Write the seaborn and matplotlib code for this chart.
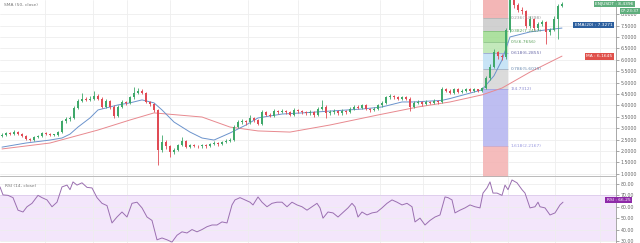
import matplotlib
matplotlib.use("Agg")
import matplotlib.pyplot as plt
import matplotlib.transforms as mtransforms
import numpy as np
import pandas as pd
import seaborn as sns

# ---------------- data ----------------
closes = [2.70, 2.79, 2.75, 2.83, 2.75, 2.66, 2.52, 2.48, 2.61, 2.66,
          2.79, 2.75, 2.70, 2.70, 2.83, 3.30, 3.40, 3.45, 3.90, 4.20,
          4.30, 4.25, 4.30, 4.40, 4.30, 3.95, 4.20, 3.95, 3.55, 3.95,
          4.15, 4.10, 4.35, 4.55, 4.65, 4.55, 4.15, 4.05, 3.80, 2.05,
          2.40, 2.20, 1.95, 2.04, 2.26, 2.45, 2.18, 2.26, 2.22, 2.20,
          2.25, 2.20, 2.30, 2.35, 2.30, 2.40, 2.45, 2.50, 3.05, 3.25,
          3.30, 3.25, 3.45, 3.35, 3.20, 3.70, 3.60, 3.55, 3.75, 3.70,
          3.75, 3.70, 3.60, 3.80, 3.75, 3.70, 3.65, 3.70, 3.60, 3.85,
          3.95, 3.65, 3.70, 3.75, 3.65, 3.75, 3.70, 3.85, 3.95, 3.90,
          4.00, 3.85, 3.80, 3.85, 4.00, 4.10, 4.35, 4.40, 4.35, 4.30,
          4.35, 4.30, 3.95, 4.10, 4.15, 4.05, 4.15, 4.10, 4.20, 4.15,
          4.70, 4.65, 4.55, 4.70, 4.60, 4.65, 4.70, 4.65, 4.70, 4.65,
          4.75, 5.20, 5.70, 6.35, 6.15, 6.10, 7.30, 8.60, 8.40, 8.20,
          8.15, 7.50, 7.80, 7.40, 7.55, 7.65, 7.20, 7.30, 7.80, 8.35,
          8.44]
first_open = 2.65
highs = [2.78, 2.85, 2.84, 2.90, 2.86, 2.78, 2.70, 2.56, 2.66, 2.72,
         2.84, 2.83, 2.78, 2.76, 2.88, 3.36, 3.50, 3.55, 3.98, 4.30,
         4.55, 4.38, 4.40, 4.65, 4.48, 4.35, 4.28, 4.25, 4.00, 4.02,
         4.22, 4.20, 4.42, 4.80, 4.75, 4.70, 4.60, 4.20, 4.10, 3.85,
         2.70, 2.48, 2.25, 2.12, 2.32, 2.60, 2.50, 2.32, 2.30, 2.28,
         2.32, 2.30, 2.36, 2.42, 2.40, 2.46, 2.52, 2.58, 3.12, 3.35,
         3.40, 3.38, 3.60, 3.50, 3.40, 3.78, 3.75, 3.66, 3.82, 3.80,
         3.84, 3.80, 3.74, 3.88, 3.86, 3.80, 3.74, 3.78, 3.74, 3.92,
         4.25, 4.00, 3.78, 3.82, 3.80, 3.82, 3.80, 3.92, 4.02, 4.00,
         4.08, 4.05, 3.90, 3.92, 4.06, 4.18, 4.42, 4.50, 4.45, 4.40,
         4.42, 4.40, 4.35, 4.18, 4.22, 4.20, 4.22, 4.20, 4.26, 4.24,
         4.80, 4.76, 4.70, 4.78, 4.75, 4.72, 4.78, 4.75, 4.76, 4.74,
         4.82, 5.30, 5.80, 6.45, 6.40, 6.25, 7.40, 8.80, 8.70, 8.48,
         8.30, 8.20, 7.90, 7.85, 7.65, 7.75, 7.70, 7.40, 7.90, 8.45,
         8.55]
lows = [2.60, 2.66, 2.70, 2.72, 2.70, 2.62, 2.47, 2.42, 2.45, 2.57,
        2.63, 2.70, 2.66, 2.64, 2.66, 2.80, 3.24, 3.33, 3.42, 3.85,
        4.15, 4.18, 4.20, 4.25, 4.22, 3.90, 3.90, 3.85, 3.45, 3.50,
        3.90, 4.02, 4.05, 4.30, 4.50, 4.48, 4.10, 3.98, 3.72, 1.40,
        1.95, 2.10, 1.75, 1.85, 2.00, 2.20, 2.12, 2.12, 2.16, 2.14,
        2.15, 2.14, 2.16, 2.25, 2.24, 2.26, 2.35, 2.40, 2.46, 3.00,
        3.18, 3.15, 3.20, 3.28, 3.12, 3.15, 3.52, 3.48, 3.50, 3.62,
        3.65, 3.62, 3.52, 3.55, 3.68, 3.62, 3.58, 3.60, 3.50, 3.55,
        3.80, 3.45, 3.58, 3.64, 3.58, 3.60, 3.62, 3.66, 3.80, 3.82,
        3.85, 3.78, 3.72, 3.75, 3.80, 3.95, 4.05, 4.30, 4.28, 4.24,
        4.25, 4.24, 3.75, 3.90, 4.05, 3.98, 4.00, 4.04, 4.06, 4.08,
        4.10, 4.58, 4.48, 4.50, 4.54, 4.55, 4.60, 4.58, 4.60, 4.58,
        4.60, 4.70, 5.12, 5.65, 6.05, 6.00, 6.05, 7.20, 8.25, 8.10,
        8.00, 7.40, 7.40, 7.30, 7.30, 7.50, 6.70, 7.10, 7.25, 6.90,
        8.30]

ema_pos = [0, 6, 12, 15, 17, 19, 22, 24, 27, 29, 32, 35, 38, 40, 43, 47, 50,
           53, 57, 61, 64, 70, 75, 82, 90, 95, 100, 103, 110, 112, 120, 123,
           125, 127, 132, 136, 140]
ema_vals = [2.17, 2.35, 2.48, 2.57, 2.74, 3.05, 3.45, 3.80, 3.93, 4.02, 4.11,
            4.24, 4.11, 3.80, 3.27, 2.83, 2.57, 2.48, 2.79, 3.14, 3.45, 3.62,
            3.67, 3.75, 3.84, 3.93, 4.15, 4.15, 4.22, 4.30, 4.68, 5.30,
            5.99, 7.00, 7.22, 7.31, 7.39]
sma_pos = [0, 12, 24, 32, 38, 44, 50, 57, 64, 72, 82, 94, 104, 112, 120, 125,
           132, 140]
sma_vals = [2.09, 2.35, 2.92, 3.36, 3.67, 3.58, 3.49, 3.05, 2.88, 2.83, 3.14,
            3.58, 3.93, 4.15, 4.46, 4.76, 5.46, 6.16]

rsi_pos = [-0.5, 0.25, 1.5, 2.75, 4, 5.25, 6.25, 7.5, 9, 10, 11.25, 12.5,
           13.75, 15, 16.25, 17, 17.75, 18.75, 20, 21.25, 22.5, 23.75, 25,
           26.25, 27.5, 28.75, 30, 31.25, 32.5, 33.75, 35, 36.25, 37.5, 38.75,
           40, 41.25, 42.5, 43.75, 45, 46.25, 47.5, 48.75, 50, 51.25, 52.5,
           53.75, 55, 56.25, 57.5, 58.25, 59.5, 60.75, 62, 62.75, 64, 65,
           66.25, 67.5, 68.75, 70, 71.25, 72.5, 73.75, 75, 76.25, 77.5, 78.75,
           79.5, 80.25, 81.5, 82.75, 84, 85.25, 86.5, 87.5, 88.25, 89, 90,
           91.25, 92.5, 93.75, 95, 96.25, 97.5, 98.75, 100, 101.25, 102.5,
           103.25, 104.5, 105.75, 107, 108.25, 109.5, 110.75, 111.5, 112.5,
           113.25, 114.5, 115.75, 117, 118.25, 119.5, 120.25, 121.25, 122,
           122.75, 123.75, 125, 125.75, 126.5, 127.5, 128.75, 130, 130.75,
           132, 133.25, 134, 134.5, 135.75, 137, 138.25, 139.5, 140.25]
rsi_vals = [77.4, 70.4, 70.0, 68.0, 57.0, 55.4, 60.0, 63.0, 70.0, 68.0, 66.0,
            60.0, 64.0, 77.4, 79.0, 75.0, 81.8, 79.0, 81.0, 77.0, 76.5, 68.0,
            63.0, 61.0, 45.8, 51.0, 55.4, 51.0, 63.0, 64.0, 59.0, 51.0, 48.0,
            31.0, 32.6, 31.0, 29.0, 35.0, 38.0, 37.0, 40.0, 38.0, 40.0, 42.5,
            44.0, 44.0, 46.7, 45.8, 61.6, 66.0, 68.0, 66.0, 64.0, 61.6, 68.6,
            64.0, 60.0, 63.0, 64.0, 64.0, 60.0, 64.0, 61.6, 60.0, 57.0, 60.0,
            63.0, 59.0, 50.0, 55.4, 54.6, 51.0, 55.0, 59.0, 63.0, 60.0, 51.0,
            55.4, 52.8, 54.6, 55.4, 59.0, 63.0, 66.0, 64.0, 61.6, 63.0, 60.0,
            46.7, 50.0, 44.0, 48.0, 51.0, 52.8, 68.6, 68.0, 66.0, 54.6, 57.0,
            59.0, 61.6, 60.0, 59.0, 72.0, 76.5, 81.8, 72.0, 72.0, 70.0, 79.0,
            75.0, 83.5, 81.0, 75.0, 72.0, 59.0, 60.0, 64.0, 60.0, 59.0, 52.8,
            54.6, 61.6, 64.0]

fib_ratios = [0, 0.236, 0.382, 0.5, 0.618, 0.786, 1, 1.618]
fib_price_0 = 8.80
fib_price_1 = 4.7312
fib_start, fib_end = 120.25, 126.5
fib_colors = ["#f2a9a9", "#c9c9c9", "#9fdc8f", "#b9e6b0", "#bfe0f5",
              "#d5d5d5", "#b3b3ef", "#f4b1b1"]
fib_text_colors = ["#888888", "#999999", "#5aa05a", "#5aa05a", "#6a6aa8",
                   "#6a8ab0", "#8a8ad0", "#9a9ae0"]

price_ticks = [1.0, 1.5, 2.0, 2.5, 3.0, 3.5, 4.0, 4.5, 5.0, 5.5, 6.0, 6.5,
               7.0, 7.5, 8.0]
rsi_ticks = [30, 40, 50, 60, 70, 80]
date_grid = [10.75, 22.75, 31.25, 42, 61.5, 74, 94.5, 105.25, 117, 126.5,
             138.25, 149.5]

up_color = "#3fa86a"
down_color = "#e04b55"

# ---------------- figure ----------------
sns.set_theme(style="white")
plt.rcParams["font.family"] = ["DejaVu Sans"]

fig = plt.figure(figsize=(6.4, 2.43), dpi=100)
W, H = 640.0, 243.0
ax = fig.add_axes([0, 67 / H, 616 / W, 176 / H])
axr = fig.add_axes([0, 0, 616 / W, 66 / H], sharex=ax)

n = len(closes)
opens = [first_open] + closes[:-1]
df = pd.DataFrame({"i": np.arange(n), "open": opens, "close": closes,
                   "high": highs, "low": lows})
df["up"] = df["close"] >= df["open"]

# fib zones
for k in range(len(fib_ratios)):
    lvl_hi = fib_price_0 - fib_ratios[k] * (fib_price_0 - fib_price_1)
    if k + 1 < len(fib_ratios):
        lvl_lo = fib_price_0 - fib_ratios[k + 1] * (fib_price_0 - fib_price_1)
    else:
        lvl_lo = 0.0
    ax.fill_between([fib_start, fib_end], lvl_lo, lvl_hi,
                    color=fib_colors[k], alpha=0.85, lw=0, zorder=1)
    ax.hlines(lvl_hi, fib_start, fib_end, color=fib_text_colors[k],
              lw=0.5, alpha=0.6, zorder=1)
    if k > 0:
        ax.text(fib_end + 0.6, lvl_hi,
                f"{fib_ratios[k]:g}({lvl_hi:.4f})",
                fontsize=3.2, color=fib_text_colors[k], va="center",
                ha="left", zorder=5)

# moving averages
sns.lineplot(x=sma_pos, y=sma_vals, ax=ax, color="#e8898f", lw=0.7,
             zorder=3)
sns.lineplot(x=ema_pos, y=ema_vals, ax=ax, color="#6b93cc", lw=0.7,
             zorder=3)

# candles
colors = np.where(df["up"], up_color, down_color)
ax.vlines(df["i"], df["low"], df["high"], colors=colors, lw=0.6, zorder=4)
body = (df["close"] - df["open"]).abs().clip(lower=0.03)
bottom = df[["open", "close"]].min(axis=1)
ax.bar(df["i"], body, bottom=bottom, width=0.68, color=colors, lw=0,
       zorder=4)

ax.set_xlim(-0.5, 153.5)
ax.set_ylim(0.904, 8.62)
ax.set_yticks(price_ticks)
ax.set_yticklabels([f"{t:.4f}" for t in price_ticks])
ax.set_xticks(date_grid)
ax.tick_params(axis="x", length=0, labelbottom=False)
ax.yaxis.tick_right()
ax.tick_params(axis="y", labelsize=3.4, colors="#666666", length=2,
               width=0.4, pad=1.5)
ax.grid(True, color="#eeeeee", lw=0.6)
for s in ["top", "left"]:
    ax.spines[s].set_visible(False)
ax.spines["right"].set_color("#9a9a9a")
ax.spines["right"].set_linewidth(0.6)
ax.spines["bottom"].set_color("#b0b0b0")
ax.spines["bottom"].set_linewidth(0.6)
ax.set_xlabel("")
ax.set_ylabel("")
ax.text(0.006, 0.985, "SMA (50, close)", transform=ax.transAxes,
        fontsize=3.2, color="#777777", va="top", ha="left")

# right-side value tags
tr = mtransforms.blended_transform_factory(ax.transAxes, ax.transData)
ax.text(0.966, 8.45, "ENJUSDT : 8.4396", transform=tr, fontsize=3.2,
        color="white", ha="left", va="center", clip_on=False, zorder=10,
        bbox=dict(boxstyle="square,pad=0.3", fc="#5fae7d", ec="none"))
ax.text(1.008, 8.15, "07:23:37", transform=tr, fontsize=3.0,
        color="white", ha="left", va="center", clip_on=False, zorder=10,
        bbox=dict(boxstyle="square,pad=0.25", fc="#5fae7d", ec="none"))
ax.text(0.994, 7.53, "EMA(20) : 7.3271", transform=tr, fontsize=3.2,
        color="white", ha="right", va="center", clip_on=False, zorder=10,
        bbox=dict(boxstyle="square,pad=0.3", fc="#2c5f9e", ec="none"))
ax.text(0.994, 6.15, "MA : 6.1645", transform=tr, fontsize=3.2,
        color="white", ha="right", va="center", clip_on=False, zorder=10,
        bbox=dict(boxstyle="square,pad=0.3", fc="#e0504a", ec="none"))

# ---------------- RSI panel ----------------
axr.axhspan(30, 70, color="#f3e6fb", lw=0, zorder=0)
axr.axhline(70, color="#d9c2ec", lw=0.5, zorder=1)
sns.lineplot(x=rsi_pos, y=rsi_vals, ax=axr, color="#9a6fb0", lw=0.7,
             zorder=3)
axr.set_ylim(28.2, 86.1)
axr.set_yticks(rsi_ticks)
axr.set_yticklabels([f"{t:.2f}" for t in rsi_ticks])
axr.yaxis.tick_right()
axr.tick_params(axis="y", labelsize=3.4, colors="#666666", length=2,
                width=0.4, pad=1.5)
axr.tick_params(axis="x", length=0, labelbottom=False)
axr.grid(True, color="#eeeeee", lw=0.6)
for s in ["top", "left", "bottom"]:
    axr.spines[s].set_visible(False)
axr.spines["right"].set_color("#9a9a9a")
axr.spines["right"].set_linewidth(0.6)
axr.set_xlabel("")
axr.set_ylabel("")
axr.text(0.008, 0.9, "RSI (14, close)", transform=axr.transAxes,
         fontsize=3.2, color="#777777", va="top", ha="left")
trr = mtransforms.blended_transform_factory(axr.transAxes, axr.transData)
axr.text(0.985, 66.0, "RSI : 66.25", transform=trr, fontsize=3.2,
         color="white", ha="left", va="center", clip_on=False, zorder=10,
         bbox=dict(boxstyle="square,pad=0.3", fc="#8e2aa8", ec="none"))

fig.savefig("out.png", dpi=100, facecolor="white")
